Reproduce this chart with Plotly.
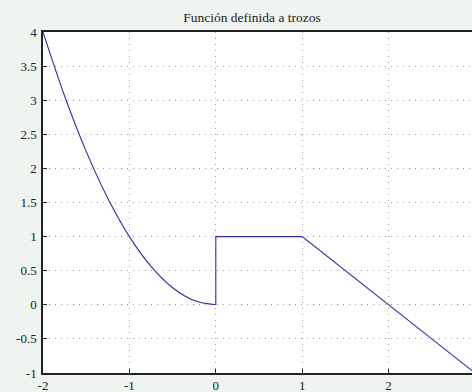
import plotly.graph_objects as go

# Parabolic piece (x <= 0)
x_curve = [-2.0, -1.75, -1.5, -1.25, -1.0, -0.75, -0.5, -0.25, 0.0]
y_curve = [4.0, 3.0625, 2.25, 1.5625, 1.0, 0.5625, 0.25, 0.0625, 0.0]
# Jump, flat piece and descending line
x_lines = [0.0, 0.0, 1.0, 3.0]
y_lines = [0.0, 1.0, 1.0, -1.0]

x_ticks = [-2, -1, 0, 1, 2]
y_ticks = [-1, -0.5, 0, 0.5, 1, 1.5, 2, 2.5, 3, 3.5, 4]
y_tick_text = ["-1", "-0.5", "0", "0.5", "1", "1.5", "2", "2.5", "3", "3.5", "4"]
title_text = "Función definida a trozos"

line_color = "#2e2e9e"
serif = "Liberation Serif"

fig = go.Figure()
fig.add_trace(go.Scatter(x=x_curve, y=y_curve, mode="lines",
                         line=dict(color=line_color, width=1.1, shape="spline"),
                         showlegend=False, hoverinfo="skip"))
fig.add_trace(go.Scatter(x=x_lines, y=y_lines, mode="lines",
                         line=dict(color=line_color, width=1.1),
                         showlegend=False, hoverinfo="skip"))

axis_common = dict(
    showgrid=True, gridcolor="#9a9a9a", griddash="1px,5px", gridwidth=1,
    zeroline=False, showline=True, linecolor="#222222", linewidth=1.5,
    mirror=True, ticks="inside", ticklen=4, tickcolor="#222222",
    automargin=False,
    tickfont=dict(family=serif, size=13, color="#222222"),
)

fig.update_xaxes(range=[-2, 2.965], tickvals=x_ticks, ticktext=[str(v) for v in x_ticks],
                 ticklabelstandoff=0, **axis_common)
fig.update_yaxes(range=[-1, 4], tickvals=y_ticks, ticktext=y_tick_text,
                 ticklabelstandoff=2, **axis_common)

fig.update_layout(
    width=472, height=392,
    margin=dict(l=43, r=0, t=32, b=19),
    paper_bgcolor="#f0f4f0", plot_bgcolor="#ffffff",
    font=dict(family=serif),
    title=dict(text=title_text, x=252 / 472, xanchor="center",
               y=1 - 17 / 392, yanchor="middle",
               font=dict(family=serif, size=13.5, color="#222222")),
)

fig.write_html("out.html", config={"displayModeBar": False},
               post_script="document.body.style.margin='0';")
